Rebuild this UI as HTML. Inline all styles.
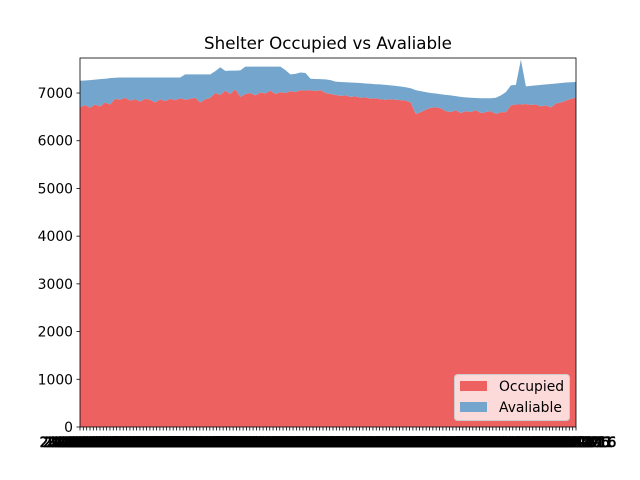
<!DOCTYPE html>
<html><head><meta charset="utf-8"><style>
body{margin:0;background:#fff;}
svg{display:block;font-family:"DejaVu Sans","Liberation Sans",sans-serif;}
</style></head><body>
<svg id="chart" width="640" height="480" viewBox="0 0 640 480">
<rect width="640" height="480" fill="#fff"/>
<text x="328" y="49" font-size="16.7" text-anchor="middle">Shelter Occupied vs Avaliable</text>
<g id="plot"></g>
</svg>
<script>
const occupied=[6700,6750,6690,6760,6720,6800,6760,6880,6860,6900,6840,6870,6820,6880,6860,6800,6870,6830,6880,6850,6890,6860,6880,6900,6800,6870,6900,7000,6960,7050,6980,7080,6920,6980,7000,6950,7010,6990,7050,6980,7020,7000,7040,7020,7060,7050,7060,7040,7060,7000,6980,6960,6940,6950,6920,6930,6900,6910,6880,6890,6870,6860,6870,6860,6850,6840,6800,6560,6600,6650,6690,6700,6680,6620,6600,6640,6580,6620,6600,6640,6580,6600,6620,6560,6600,6600,6740,6760,6760,6770,6750,6760,6720,6740,6700,6780,6800,6840,6880,6900];
const available=[558,512,580,520,570,500,552,440,465,425,485,455,505,445,465,525,455,495,445,475,435,530,510,490,590,520,490,460,580,415,490,390,555,572,552,602,542,562,502,572,532,480,350,380,370,370,240,255,230,285,290,280,290,275,300,285,310,290,315,295,310,310,290,290,287,280,300,500,440,370,310,290,295,340,350,295,340,290,300,255,310,290,270,340,350,420,420,410,940,370,400,400,450,440,490,420,410,380,345,330];
const yTicks=[0,1000,2000,3000,4000,5000,6000,7000];
const tickDates=[];
for(let i=0;i<150;i++){const d=new Date(Date.UTC(2021,0,1+i*5));tickDates.push(d.toISOString().slice(0,10));}

const L=80,R=576,T=58,B=427,YMAX=7734;
const n=occupied.length;
const xs=i=>L+(R-L)*i/(n-1);
const xt=i=>L+(R-L)*i/(tickDates.length-1);
const ys=v=>B-(B-T)*v/YMAX;
const NS="http://www.w3.org/2000/svg";
const plot=document.getElementById('plot');
function mk(tag,attrs){const e=document.createElementNS(NS,tag);for(const k in attrs)e.setAttribute(k,attrs[k]);plot.appendChild(e);return e;}

let d="M"+xs(0)+","+ys(0);
for(let i=0;i<n;i++)d+="L"+xs(i)+","+ys(occupied[i]);
d+="L"+xs(n-1)+","+ys(0)+"Z";
const a1=mk('path',{d:d,fill:'#ee6161'});


let d2="M"+xs(0)+","+ys(occupied[0]);
for(let i=0;i<n;i++)d2+="L"+xs(i)+","+ys(occupied[i]+available[i]);
for(let i=n-1;i>=0;i--)d2+="L"+xs(i)+","+ys(occupied[i]);
d2+="Z";
const a2=mk('path',{d:d2,fill:'#74a6cd'});



yTicks.forEach(v=>{
  const y=ys(v);
  const t=mk('line',{x1:L-3.5,x2:L,y1:y,y2:y,stroke:'#000','stroke-width':0.8});
  
  
  const lb=mk('text',{x:L-7,y:y+5,'font-size':13.9,'text-anchor':'end'});
  lb.textContent=v;
  
  
});
tickDates.forEach((s,i)=>{
  const x=xt(i);
  const t=mk('line',{x1:x,x2:x,y1:B,y2:B+3.5,stroke:'#000','stroke-width':0.8});
  
  
  const lb=mk('text',{x:x,y:B+20,'font-size':13.9,'text-anchor':'middle',stroke:'#000','stroke-width':0.6});
  lb.textContent=s;
  
  
});
const fr=mk('rect',{x:L,y:T,width:R-L,height:B-T,fill:'none',stroke:'#000','stroke-width':0.8});



const lg=mk('rect',{x:454.5,y:374.5,width:115,height:46,rx:3,fill:'#fde0e0',stroke:'#cccccc','stroke-width':1,'fill-opacity':0.95});


const p1=mk('rect',{x:460,y:381,width:27,height:10,fill:'#ee6161'});


const t1=mk('text',{x:499,y:391,'font-size':13.9});t1.textContent='Occupied';


const p2=mk('rect',{x:460,y:402,width:27,height:10,fill:'#74a6cd'});


const t2=mk('text',{x:499,y:412,'font-size':13.9});t2.textContent='Avaliable';


</script>
</body></html>
